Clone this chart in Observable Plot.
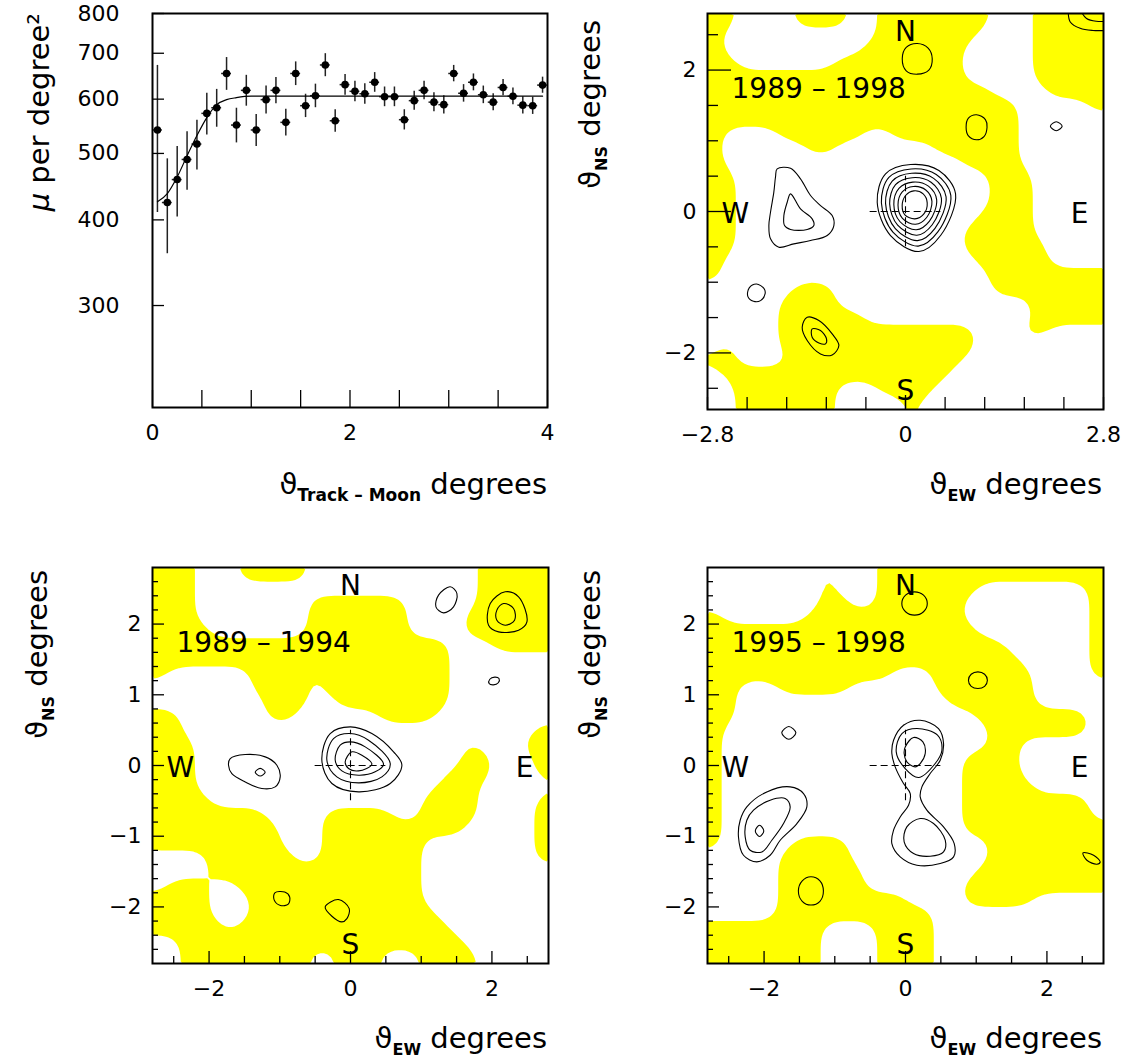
<!DOCTYPE html>
<html><head><meta charset="utf-8">
<script src="https://cdn.jsdelivr.net/npm/d3@7"></script>
<script src="https://cdn.jsdelivr.net/npm/@observablehq/plot@0.6"></script>
<style>
body{margin:0;background:#fff;}
#chart{position:relative;width:1126px;height:1063px;background:#fff;overflow:hidden;}
#chart svg{position:absolute;overflow:visible;}
</style></head><body><div id="chart"></div>
<script>
// ---------------- Panel 1: muon rate vs angular distance ----------------
const theta = [0.05,0.15,0.25,0.35,0.45,0.55,0.65,0.75,0.85,0.95,1.05,1.15,1.25,1.35,1.45,1.55,1.65,1.75,1.85,1.95,2.05,2.15,2.25,2.35,2.45,2.55,2.65,2.75,2.85,2.95,3.05,3.15,3.25,3.35,3.45,3.55,3.65,3.75,3.85,3.95];
const mu = [541,424,458,490,516,572,583,654,550,618,541,599,618,555,654,587,607,673,558,630,616,611,635,605,605,560,597,618,594,589,654,612,635,609,594,624,606,588,587,629];
const muErr = [131,67,54,48,43,40,37,36,32,32,29,28,27,25,26,23,24,26,21,22,21,21,21,20,20,19,19,19,19,18,18,18,18,18,17,17,17,17,17,17];
const binHalf = 0.05;
const fitTheta = [0.05,0.15,0.25,0.35,0.45,0.55,0.65,0.75,0.85,1.0,1.5,2.0,3.0,3.95];
const fitMu = [425,437,462,496,531,564,589,599,603,606,606,606,606,606];
const tlXTicks = [0,0.5,1,1.5,2,2.5,3,3.5,4];
const tlXLabels = [0,2,4];
const tlYTicks = [300,400,500,600,700,800];

// ---------------- Moon-shadow maps ----------------
const mapExtent = 2.8;
const crossHalf = 0.5;
const compass = ["N","S","W","E"];
const periods = ["1989 – 1998","1989 – 1994","1995 – 1998"];

// yellow regions, 28x28 cells of 0.2 deg, rows from top (NS=+2.7) to bottom; run-length: n y(yellow)/w(white)
const maskA = ["2y4w4y2w8y3w5y","1y11w7y4w5y","1y10w7y5w5y","2y7w9y5w5y","18y5w5y","20y4w4y","22y5w1y","22y6w","1y4w6y2w9y6w","1y6w2y7w6y6w","1y17w4y6w","2y18w3y5w","2y18w3y5w","2y18w3y5w","2y17w4y5w","2y16w5y5w","2y16w6y4w","1y18w5y4w","1y19w8y","6w3y11w8y","5w4y14w5y","5w6y12w5y","5w14y3w2y4w","1w1y3w14y9w","2y4w12y10w","1w16y11w","2w7y3w4y12w","2w7y5w1y13w"];
const maskB = ["3y3w5y12w5y","3y20w5y","3y8w7y5w5y","3y8w7y4w6y","4y7w7y4w6y","21y3w4y","21y7w","1y6w4y1w9y7w","7w4y1w9y7w","8w3y2w8y7w","2y6w2y6w4y8w","2y25w1y","3y19w1y3w2y","3y19w2y3w1y","3y18w3y3w1y","3y17w3y5w","4y15w4y4w1y","8y4w5y2w4y4w1y","9y3w10y5w1y","9y3w7y8w1y","4w6y2w7y8w1y","4w15y9w","1w3y2w13y3w1y5w","4y3w12y9w","4y3w13y8w","5y1w15y7w","2w20y6w","2w9y2w3y3w4y5w"];
const maskC = ["8w1y3w16y","8w1y3w7y8w1y","8w2y2w6y9w1y","1y6w11y9w1y","19y8w1y","21y6w1y","22y5w1y","13y3w7y4w1y","2y3w5y6w7y5w","2y15w6y5w","2y17w8y1w","1y19w7y1w","1y19w2y6w","1y17w4y6w","1y17w4y6w","1y17w5y5w","1y17w9y1w","1y17w9y1w","1y17w10y","1y5w4y10w8y","5w5y10w8y","5w6y8w9y","5w6y7w10y","5w9y4w5y5w","5w11y12w","8y4w4y12w","8y4w4y12w","8y4w4y12w"];

// contour lines (closed), points in degrees [EW, NS]
const ringsA = [
 [[0.166,2.376],[0.32,2.31],[0.378,2.16],[0.33,2.0],[0.166,1.942],[0.01,1.99],[-0.046,2.16],[0.01,2.32]],
 [[1.005,1.369],[1.13,1.30],[1.153,1.192],[1.11,1.06],[1.005,1.015],[0.89,1.07],[0.857,1.192],[0.89,1.32]],
 [[2.132,1.27],[2.215,1.206],[2.132,1.142],[2.049,1.206]],
 [[-1.815,0.603],[-1.626,0.612],[-1.485,0.461],[-1.343,0.226],[-1.202,0.084],[-1.037,-0.057],[-1.013,-0.199],[-1.107,-0.340],[-1.343,-0.411],[-1.579,-0.458],[-1.791,-0.505],[-1.909,-0.387],[-1.932,-0.199],[-1.909,-0.010],[-1.862,0.273],[-1.838,0.491]],
 [[-1.626,0.249],[-1.485,0.037],[-1.320,-0.104],[-1.296,-0.199],[-1.390,-0.255],[-1.626,-0.255],[-1.711,-0.199],[-1.720,-0.057],[-1.673,0.131]],
 [[-0.400,0.131],[-0.282,0.532],[0.071,0.664],[0.472,0.579],[0.708,0.249],[0.496,-0.340],[0.189,-0.566],[-0.212,-0.340]],
 [[-0.341,0.123],[-0.235,0.481],[0.079,0.602],[0.435,0.524],[0.641,0.228],[0.457,-0.289],[0.180,-0.489],[-0.178,-0.291]],
 [[-0.282,0.115],[-0.188,0.430],[0.087,0.540],[0.398,0.469],[0.574,0.207],[0.417,-0.238],[0.170,-0.412],[-0.144,-0.243]],
 [[-0.224,0.108],[-0.141,0.379],[0.095,0.478],[0.361,0.414],[0.508,0.186],[0.378,-0.187],[0.161,-0.335],[-0.111,-0.194]],
 [[-0.165,0.100],[-0.093,0.328],[0.102,0.416],[0.324,0.359],[0.441,0.164],[0.339,-0.136],[0.152,-0.258],[-0.077,-0.145]],
 [[-0.106,0.092],[-0.046,0.277],[0.110,0.354],[0.287,0.304],[0.374,0.143],[0.299,-0.085],[0.142,-0.181],[-0.043,-0.097]],
 [[-0.047,0.084],[0.001,0.226],[0.118,0.292],[0.250,0.249],[0.307,0.122],[0.260,-0.034],[0.133,-0.104],[-0.009,-0.048]],
 [[-2.107,-1.026],[-2.0,-1.09],[-1.985,-1.16],[-2.05,-1.26],[-2.15,-1.27],[-2.23,-1.2],[-2.21,-1.08]],
 [[-1.390,-1.495],[-1.225,-1.542],[-1.037,-1.731],[-0.942,-1.896],[-1.037,-2.028],[-1.202,-2.014],[-1.390,-1.825],[-1.461,-1.637]],
 [[-1.320,-1.660],[-1.202,-1.684],[-1.117,-1.802],[-1.131,-1.872],[-1.225,-1.858],[-1.320,-1.778]]
];
const arcsA = [
 [[2.30,2.85],[2.33,2.68],[2.47,2.59],[2.65,2.56],[2.85,2.56]],
 [[2.47,2.85],[2.56,2.73],[2.70,2.69],[2.85,2.69]]
];
const ringsB = [
 [[1.410,2.527],[1.505,2.432],[1.457,2.244],[1.316,2.159],[1.208,2.244],[1.245,2.409]],
 [[2.188,2.456],[2.377,2.385],[2.495,2.031],[2.377,1.914],[2.094,1.890],[1.952,1.984],[1.976,2.291]],
 [[2.165,2.291],[2.306,2.220],[2.320,2.055],[2.188,1.984],[2.070,2.055],[2.070,2.197]],
 [[2.10,1.23],[2.09,1.17],[2.02,1.14],[1.96,1.16],[1.97,1.22],[2.04,1.25]],
 [[-1.701,0.098],[-1.489,0.155],[-1.206,0.122],[-1.041,0.004],[-0.994,-0.161],[-1.065,-0.302],[-1.254,-0.326],[-1.489,-0.232],[-1.678,-0.114],[-1.725,0.004]],
 [[-1.277,-0.041],[-1.207,-0.095],[-1.277,-0.149],[-1.347,-0.095]],
 [[-0.405,0.075],[-0.287,0.452],[-0.004,0.546],[0.302,0.452],[0.609,0.193],[0.727,0.004],[0.562,-0.255],[0.114,-0.373],[-0.263,-0.255]],
 [[-0.334,0.075],[-0.240,0.381],[-0.004,0.452],[0.255,0.358],[0.562,0.028],[0.444,-0.161],[0.114,-0.246],[-0.193,-0.161]],
 [[-0.216,0.075],[-0.146,0.287],[-0.004,0.334],[0.208,0.263],[0.467,0.018],[0.349,-0.090],[0.114,-0.137],[-0.122,-0.076]],
 [[-0.075,0.051],[0.019,0.193],[0.161,0.146],[0.302,0.018],[0.114,-0.076],[-0.028,-0.043]],
 [[-1.07,-1.80],[-0.93,-1.79],[-0.86,-1.86],[-0.88,-1.96],[-0.99,-1.98],[-1.08,-1.90]],
 [[-0.358,-2.0],[-0.169,-1.896],[-0.018,-2.023],[-0.051,-2.165],[-0.122,-2.212],[-0.263,-2.132]]
];
const ringsC = [
 [[0.128,2.456],[0.255,2.408],[0.308,2.291],[0.255,2.174],[0.128,2.126],[0.001,2.174],[-0.052,2.291],[0.001,2.408]],
 [[1.024,1.324],[1.119,1.29],[1.158,1.206],[1.119,1.12],[1.024,1.088],[0.929,1.12],[0.89,1.206],[0.929,1.29]],
 [[-1.65,0.552],[-1.55,0.462],[-1.65,0.372],[-1.75,0.462]],
 [[-2.244,-0.585],[-1.961,-0.373],[-1.631,-0.302],[-1.442,-0.397],[-1.395,-0.585],[-1.536,-0.821],[-1.772,-1.057],[-1.914,-1.269],[-2.102,-1.363],[-2.291,-1.269],[-2.362,-1.010],[-2.338,-0.774]],
 [[-2.149,-0.632],[-1.914,-0.491],[-1.701,-0.467],[-1.631,-0.585],[-1.725,-0.821],[-1.890,-1.057],[-2.031,-1.222],[-2.197,-1.198],[-2.267,-1.010],[-2.244,-0.774]],
 [[-2.064,-0.845],[-2.004,-0.925],[-2.064,-1.005],[-2.124,-0.925]],
 [[-0.169,0.358],[-0.028,0.570],[0.208,0.640],[0.467,0.523],[0.538,0.311],[0.491,0.075],[0.349,-0.114],[0.232,-0.302],[0.208,-0.444],[0.302,-0.632],[0.538,-0.868],[0.689,-1.104],[0.680,-1.292],[0.491,-1.387],[0.161,-1.410],[-0.075,-1.292],[-0.193,-1.104],[-0.169,-0.915],[-0.075,-0.727],[0.043,-0.562],[0.067,-0.397],[-0.028,-0.255],[-0.146,-0.019],[-0.193,0.169]],
 [[-0.131,0.193],[-0.051,0.452],[0.161,0.523],[0.453,0.429],[0.515,0.216],[0.420,0.028],[0.185,-0.170],[-0.004,-0.043]],
 [[-0.004,0.263],[0.114,0.396],[0.246,0.334],[0.279,0.169],[0.208,0.028],[0.137,-0.019],[0.019,0.051],[-0.019,0.169]],
 [[0.019,-0.868],[0.208,-0.750],[0.397,-0.821],[0.562,-1.057],[0.538,-1.222],[0.349,-1.283],[0.114,-1.245],[-0.019,-1.080]],
 [[-1.338,-1.573],[-1.21,-1.63],[-1.161,-1.773],[-1.21,-1.92],[-1.338,-1.973],[-1.46,-1.92],[-1.515,-1.773],[-1.46,-1.63]],
 [[2.509,-1.236],[2.660,-1.269],[2.754,-1.363],[2.707,-1.396],[2.565,-1.340]]
];

// axis ticks
const aXTicks = [-2.8,-2.24,-1.68,-1.12,-0.56,0,0.56,1.12,1.68,2.24,2.8];
const aXLabels = [-2.8,0,2.8];
const aYMinor = [-2.5,-1.5,-1,-0.5,0.5,1,1.5,2.5];
const aYMajor = [-2,0,2];
const bXMinor = [-2.5,-1.5,-1,-0.5,0.5,1,1.5,2.5];
const bXMajor = [-2,0,2];
const bYMinor = [-2.6,-2.4,-2.2,-1.8,-1.6,-1.4,-1.2,-0.8,-0.6,-0.4,-0.2,0.2,0.4,0.6,0.8,1.2,1.4,1.6,1.8,2.2,2.4,2.6];
const bYMajor = [-2,-1,0,1,2];

// ---------------------------------------------------------------
const FONT = "DejaVu Sans";
const fmt = d => (d < 0 ? "\u2212" + Math.abs(d) : String(d));
const chart = document.getElementById("chart");
const GRID = 28, UP = 4;   // mask cells, sub-samples per cell (for smooth outlines)

function decodeMask(rows) {
  const cells = [];
  for (const r of rows) {
    const row = [];
    for (const m of r.matchAll(/(\d+)([yw])/g)) {
      for (let i = 0; i < +m[1]; i++) row.push(m[2] === "y" ? 1 : 0);
    }
    if (row.length !== GRID) throw new Error("mask row length " + row.length + " in " + r);
    cells.push(row);
  }
  if (cells.length !== GRID) throw new Error("mask rows " + cells.length);
  // replicate each cell UP x UP times (no new values, only finer sampling)
  const vals = [];
  for (let j = 0; j < GRID * UP; j++) {
    const row = cells[Math.floor(j / UP)];
    for (let i = 0; i < GRID * UP; i++) vals.push(row[Math.floor(i / UP)]);
  }
  return vals;
}

function place(svg, left, top) {
  svg.style.left = left + "px";
  svg.style.top = top + "px";
  chart.appendChild(svg);
}

function addText(svg, {x, y, rotate = 0, parts}) {
  const t = d3.select(svg).append("text")
    .attr("transform", `translate(${x},${y}) rotate(${rotate})`)
    .attr("text-anchor", "end")
    .attr("font-family", FONT)
    .attr("fill", "black");
  for (const p of parts) {
    const s = t.append("tspan").attr("font-size", p.size).attr("dy", p.dy || 0).text(p.t);
    if (p.bold) s.attr("font-weight", "bold");
    if (p.italic) s.attr("font-style", "italic");
  }
}

// ---- panel 1 ----
{
  const pts = theta.map((t, i) => ({theta: t, mu: mu[i], err: muErr[i]}));
  const fit = fitTheta.map((t, i) => ({theta: t, mu: fitMu[i]}));
  const fw = 395, fh = 394;
  const svg = Plot.plot({
    width: 560, height: 520,
    marginLeft: 152, marginRight: 13, marginTop: 13, marginBottom: 113,
    x: {domain: [0, 4]},
    y: {type: "log", domain: [213, 800]},
    style: {fontFamily: FONT, fontSize: "22px", color: "black", background: "white", overflow: "visible"},
    marks: [
      Plot.ruleX(pts, {x: "theta", y1: d => d.mu - d.err, y2: d => d.mu + d.err, stroke: "#222", strokeWidth: 1.5}),
      Plot.ruleY(pts, {y: "mu", x1: d => d.theta - binHalf, x2: d => d.theta + binHalf, stroke: "#222", strokeWidth: 1.5}),
      Plot.line(fit, {x: "theta", y: "mu", curve: "monotone-x", stroke: "black", strokeWidth: 1.2}),
      Plot.dot(pts, {x: "theta", y: "mu", r: 3.8, fill: "black", stroke: "none"}),
      Plot.tickX(tlXTicks, {x: d => d, insetTop: fh - 17, stroke: "black", strokeWidth: 1.3}),
      Plot.tickY(tlYTicks, {y: d => d, insetRight: fw - 12, stroke: "black", strokeWidth: 1.3}),
      Plot.axisX(tlXLabels, {tickSize: 0, tickPadding: 17, label: null, tickFormat: fmt, fontSize: 22}),
      Plot.axisY(tlYTicks, {tickSize: 0, tickPadding: 33, label: null, tickFormat: fmt, fontSize: 22}),
      Plot.frame({stroke: "black", strokeWidth: 2})
    ]
  });
  place(svg, 0, 0);
  addText(svg, {x: 547, y: 494, parts: [
    {t: "\u03D1", size: 29},
    {t: "Track \u2013 Moon", size: 17, bold: true, dy: 7},
    {t: " degrees", size: 29, dy: -7}
  ]});
  addText(svg, {x: 49, y: 13, rotate: -90, parts: [
    {t: "\u03BC", size: 29, italic: true},
    {t: " per degree\u00B2", size: 29}
  ]});
}

// ---- maps ----
function mapPlot(o) {
  const fw = 396, fh = 396;
  const maskVals = decodeMask(o.mask);
  const ringRecs = o.rings.flatMap((ring, i) => ring.map(([x, y]) => ({ring: i, x, y})));
  const arcRecs = (o.arcs || []).flatMap((arc, i) => arc.map(([x, y]) => ({arc: i, x, y})));
  const marks = [
    Plot.contour(maskVals, {width: GRID * UP, height: GRID * UP, x1: -mapExtent, y1: mapExtent, x2: mapExtent, y2: -mapExtent,
      thresholds: [0.5], blur: 2.5, fill: "#ffff00", stroke: "none"}),
    Plot.line(ringRecs, {x: "x", y: "y", z: "ring", curve: "catmull-rom-closed", stroke: "black", strokeWidth: 1.1, clip: true}),
    Plot.line(arcRecs, {x: "x", y: "y", z: "arc", curve: "catmull-rom", stroke: "black", strokeWidth: 1.1, clip: true}),
    Plot.ruleY([0], {x1: () => -crossHalf, x2: () => crossHalf, stroke: "black", strokeWidth: 1.1, strokeDasharray: "7,4"}),
    Plot.ruleX([0], {y1: () => -crossHalf, y2: () => crossHalf, stroke: "black", strokeWidth: 1.1, strokeDasharray: "7,4"}),
    Plot.text([compass[0]], {text: d => d, frameAnchor: "top", lineAnchor: "middle", dy: 19, fontSize: 28}),
    Plot.text([compass[1]], {text: d => d, frameAnchor: "bottom", lineAnchor: "middle", dy: -18, fontSize: 28}),
    Plot.text([compass[2]], {text: d => d, frameAnchor: "left", textAnchor: "start", lineAnchor: "middle", dx: 14, dy: 3, fontSize: 28}),
    Plot.text([compass[3]], {text: d => d, frameAnchor: "right", textAnchor: "end", lineAnchor: "middle", dx: -15, dy: 3, fontSize: 28}),
    Plot.text([o.period], {text: d => d, frameAnchor: "top-left", textAnchor: "start", lineAnchor: "middle", dx: 24, dy: 76, fontSize: 28}),
    Plot.tickY(o.yMinor, {y: d => d, insetRight: fw - o.yMinorLen, stroke: "black", strokeWidth: 1.3}),
    Plot.tickY(o.yMajor, {y: d => d, insetRight: fw - o.yMajorLen, stroke: "black", strokeWidth: 1.3}),
    Plot.tickX(o.xMinor, {x: d => d, insetTop: fh - o.xMinorLen, stroke: "black", strokeWidth: 1.3}),
    Plot.tickX(o.xMajor, {x: d => d, insetTop: fh - o.xMajorLen, stroke: "black", strokeWidth: 1.3}),
    Plot.axisX(o.xLabels, {tickSize: 0, tickPadding: 17, label: null, tickFormat: fmt, fontSize: 22}),
    Plot.axisY(o.yLabels, {tickSize: 0, tickPadding: 11, label: null, tickFormat: fmt, fontSize: 22}),
    Plot.frame({stroke: "black", strokeWidth: 2})
  ];
  const svg = Plot.plot({
    width: o.width, height: o.height,
    marginLeft: o.ml, marginRight: o.mr, marginTop: o.mt, marginBottom: o.mb,
    x: {domain: [-mapExtent, mapExtent]},
    y: {domain: [-mapExtent, mapExtent]},
    style: {fontFamily: FONT, fontSize: "22px", color: "black", background: "white", overflow: "visible"},
    marks
  });
  place(svg, o.left, o.top);
  addText(svg, {x: o.xtX, y: o.xtY, parts: [
    {t: "\u03D1", size: 29},
    {t: "EW", size: 16, bold: true, dy: 7},
    {t: " degrees", size: 29, dy: -7}
  ]});
  addText(svg, {x: o.ytX, y: o.ytY, rotate: -90, parts: [
    {t: "\u03D1", size: 29},
    {t: "NS", size: 16, bold: true, dy: 7},
    {t: " degrees", size: 29, dy: -7}
  ]});
  return svg;
}

mapPlot({mask: maskA, rings: ringsA, arcs: arcsA, period: periods[0],
  left: 560, top: 0, width: 566, height: 520, ml: 147, mr: 23, mt: 13, mb: 111,
  xMinor: aXTicks, xMajor: [0], xMinorLen: 12, xMajorLen: 14, xLabels: aXLabels,
  yMinor: aYMinor, yMajor: aYMajor, yMinorLen: 11, yMajorLen: 24, yLabels: aYMajor,
  xtX: 542, xtY: 494, ytX: 40, ytY: 20});

mapPlot({mask: maskB, rings: ringsB, period: periods[1],
  left: 0, top: 520, width: 560, height: 543, ml: 152, mr: 12, mt: 47, mb: 100,
  xMinor: bXMinor, xMajor: bXMajor, xMinorLen: 7, xMajorLen: 12, xLabels: bXMajor,
  yMinor: bYMinor, yMajor: bYMajor, yMinorLen: 6, yMajorLen: 12, yLabels: bYMajor,
  xtX: 547, xtY: 528, ytX: 47, ytY: 50});

mapPlot({mask: maskC, rings: ringsC, period: periods[2],
  left: 560, top: 520, width: 566, height: 543, ml: 147, mr: 23, mt: 47, mb: 100,
  xMinor: bXMinor, xMajor: bXMajor, xMinorLen: 7, xMajorLen: 12, xLabels: bXMajor,
  yMinor: bYMinor, yMajor: bYMajor, yMinorLen: 6, yMajorLen: 12, yLabels: bYMajor,
  xtX: 542, xtY: 528, ytX: 40, ytY: 50});
</script></body></html>
